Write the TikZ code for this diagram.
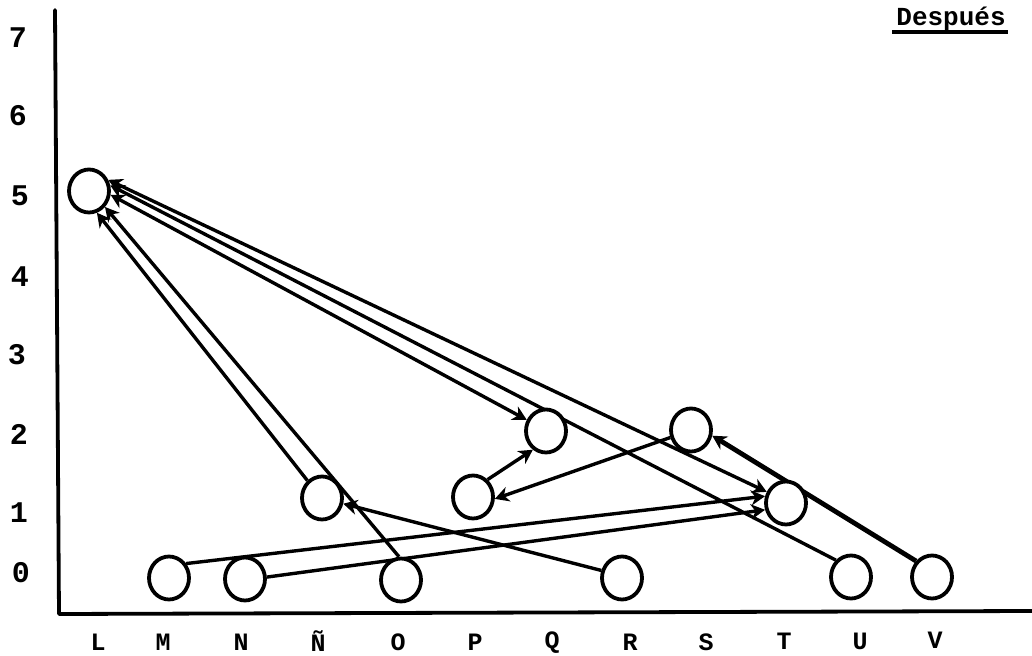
\documentclass[tikz,border=0pt]{standalone}
\usepackage{fontspec}
\setmonofont{Liberation Mono}
\usetikzlibrary{arrows.meta,shapes.geometric,backgrounds}
\begin{document}
\begin{tikzpicture}[x=0.5pt,y=-0.5pt,
  person/.style={draw,line width=1.9pt,fill=white,ellipse,minimum width=20pt,minimum height=21.5pt,inner sep=0pt},
  tip/.tip={Stealth[length=7pt,width=7.5pt,inset=2.2pt]},
  link/.style={line width=1.7pt,-tip},
  mutual/.style={line width=1.7pt,tip-tip},
  ylab/.style={font=\ttfamily\bfseries\fontsize{15}{15}\selectfont,inner sep=0pt},
  xlab/.style={font=\ttfamily\bfseries\fontsize{12.5}{12.5}\selectfont,inner sep=0pt},
  axis/.style={line width=1.9pt,line cap=round,line join=round}]
\useasboundingbox (0,0) rectangle (1032,656);
% axes
\coordinate (top) at (55,10);
\coordinate (corner) at (59,614);
\coordinate (right) at (1032,611);
\draw[axis] (top) -- (corner) -- (right);
% y labels
\node[ylab] (y7) at (18,38) {7};
\node[ylab] (y6) at (18,116) {6};
\node[ylab] (y5) at (20,196) {5};
\node[ylab] (y4) at (20,277) {4};
\node[ylab] (y3) at (17,355) {3};
\node[ylab] (y2) at (19,434) {2};
\node[ylab] (y1) at (19,513) {1};
\node[ylab] (y0) at (21,573) {0};
% x labels
\node[xlab] (xL) at (98,642) {L};
\node[xlab] (xM) at (163,642) {M};
\node[xlab] (xN) at (241,642) {N};
\node[xlab] (xNt) at (318,641) {Ñ};
\node[xlab] (xO) at (398,642) {O};
\node[xlab] (xP) at (475,642) {P};
\node[xlab] (xQ) at (552,643) {Q};
\node[xlab] (xR) at (630,642) {R};
\node[xlab] (xS) at (706,642) {S};
\node[xlab] (xT) at (784,641) {T};
\node[xlab] (xU) at (860,641) {U};
\node[xlab] (xV) at (935,640) {V};
% title
\node[font=\ttfamily\bfseries\fontsize{13}{13}\selectfont,inner sep=0pt,anchor=base] (desp) at (951,26) {Después};
\draw[line width=1.6pt] ([xshift=-2pt]desp.base west |- 0,32) coordinate (u1) -- ([xshift=1pt]desp.base east |- 0,32) coordinate (u2);
% persons
\node[person] (L5) at (89,191) {};
\node[person] (Q2) at (546,431) {};
\node[person] (P1) at (473,497) {};
\node[person] (Nt1) at (322,498) {};
\node[person] (O0) at (401,580) {};
\node[person] (M0) at (169,578) {};
\node[person] (N0) at (245,579) {};
\node[person] (R0) at (622,578) {};
\node[person] (S2) at (691,430) {};
\node[person] (T1) at (786,503) {};
\node[person] (U0) at (851,577) {};
\node[person] (V0) at (932,577) {};
% connectors
\begin{scope}[on background layer]
\draw[link] (U0.132) -- (L5.15);
\draw[mutual] (L5.30) -- (T1.150);
\draw[mutual] (L5.-10) -- (Q2.150);
\draw[link] (Nt1.130) -- (L5.-70);
\draw[link] (O0.95) -- (L5.-45);
\draw[link] (R0.160) -- (Nt1.-15);
\draw[link] (P1.50) -- (Q2.-125);
\draw[link] (S2.-160) -- (P1.-5);
\draw[link,line width=2.4pt] (V0.135) -- (S2.-15);
\draw[link] (M0.40) -- (T1.162);
\draw[link] (N0.5) -- (T1.-162);
\end{scope}
\end{tikzpicture}
\end{document}
